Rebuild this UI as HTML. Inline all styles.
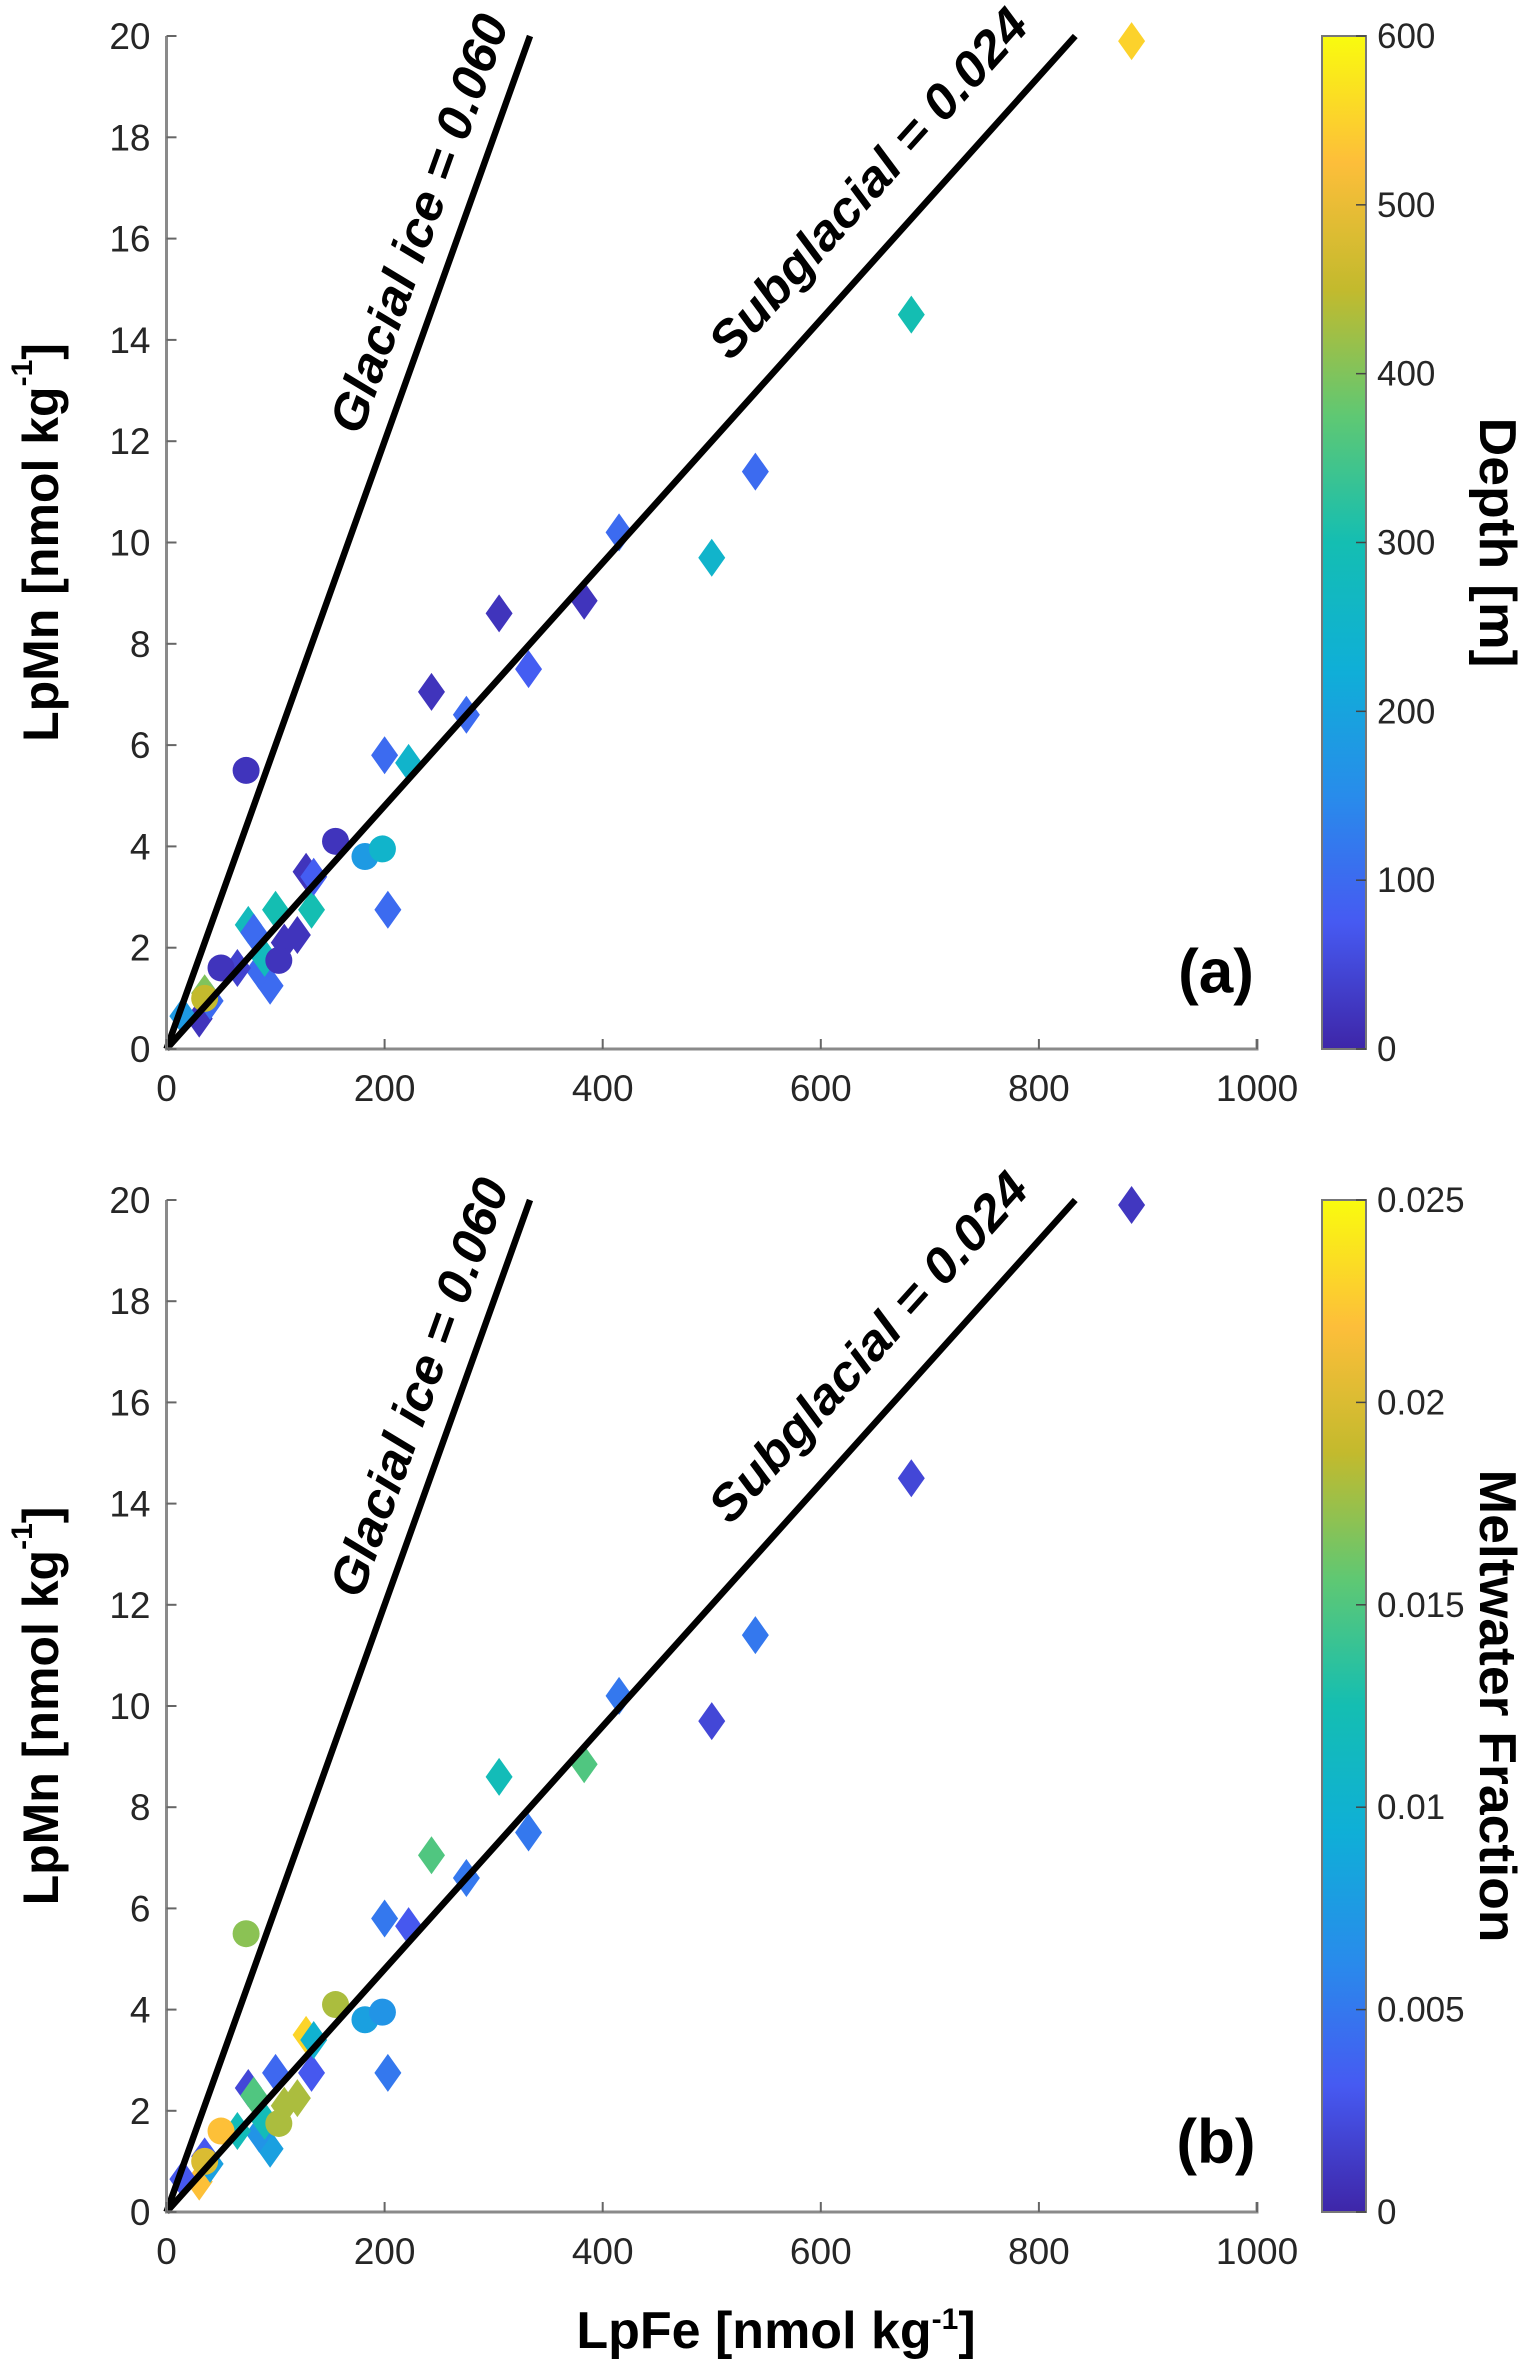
<!DOCTYPE html>
<html><head><meta charset="utf-8"><style>
html,body{margin:0;padding:0;background:#fff;}
svg{display:block;font-family:"Liberation Sans",sans-serif;}
</style></head><body>
<svg id="fig" width="1540" height="2379" viewBox="0 0 1540 2379" xmlns="http://www.w3.org/2000/svg"></svg>
<script>
const lpFe = [885,683,540,415,500,383,305,332,243,275,200,222,203,75,100,133,128,135,120,108,95,85,90,80,30,15,40,35,65,73,155,182,198,103,50,35];
const lpMn = [19.9,14.5,11.4,10.2,9.7,8.85,8.6,7.5,7.05,6.6,5.8,5.65,2.75,2.45,2.75,2.75,3.5,3.4,2.25,2.1,1.25,1.55,1.8,2.3,0.6,0.65,0.95,1.1,1.6,5.5,4.1,3.8,3.95,1.75,1.6,1.0];
const markerShape = ['d','d','d','d','d','d','d','d','d','d','d','d','d','d','d','d','d','d','d','d','d','d','d','d','d','d','d','d','d','c','c','c','c','c','c','c'];
const depth = [550,300,100,100,250,20,20,80,20,100,100,250,100,280,300,300,20,80,20,20,100,100,280,100,20,180,100,400,40,20,20,180,250,20,20,450];
const meltFrac = [0.001,0.002,0.005,0.005,0.002,0.015,0.012,0.005,0.015,0.005,0.005,0.003,0.005,0.002,0.004,0.003,0.023,0.01,0.018,0.018,0.008,0.007,0.012,0.015,0.022,0.003,0.008,0.003,0.012,0.017,0.018,0.008,0.007,0.018,0.022,0.02];
const xTicks = [0,200,400,600,800,1000];
const yTicks = [0,2,4,6,8,10,12,14,16,18,20];
const depthTicks = [0,100,200,300,400,500,600];
const meltTicks = [0,0.005,0.01,0.015,0.02,0.025];
const meltTickLabels = ['0','0.005','0.01','0.015','0.02','0.025'];
const ratioGlacial = 0.060;
const ratioSubglacial = 0.024;

const NS='http://www.w3.org/2000/svg';
const svg=document.getElementById('fig');
function mk(tag,attrs,parent){const e=document.createElementNS(NS,tag);for(const k in attrs)e.setAttribute(k,attrs[k]);(parent||svg).appendChild(e);return e;}
const stops=[[0,62,38,168],[0.125,70,90,242],[0.25,40,140,235],[0.375,15,175,215],[0.5,20,190,178],[0.625,95,200,115],[0.75,195,186,45],[0.875,253,190,58],[1,249,251,14]];
function parula(t){t=Math.max(0,Math.min(1,t));for(let i=1;i<stops.length;i++){if(t<=stops[i][0]){const a=stops[i-1],b=stops[i],f=(t-a[0])/(b[0]-a[0]);return `rgb(${Math.round(a[1]+f*(b[1]-a[1]))},${Math.round(a[2]+f*(b[2]-a[2]))},${Math.round(a[3]+f*(b[3]-a[3]))})`;}}return 'rgb(249,251,14)';}

const defs=mk('defs',{});
const grad=mk('linearGradient',{id:'par',x1:0,y1:1,x2:0,y2:0},defs);
stops.forEach(s=>mk('stop',{offset:s[0],'stop-color':`rgb(${s[1]},${s[2]},${s[3]})`},grad));

function panel(top,bottom,cvals,cmax,cTicks,cLabels,cTitle,cTitleLen,tag){
  const L=166.5,R=1257,T=top,B=bottom;
  const xs=v=>L+(v/1000)*(R-L), ys=v=>B-(v/20)*(B-T);
  const g=mk('g',{});
  
  
  const pg=mk('g',{},g);
  
  
  lpFe.forEach((fe,i)=>{
    const x=xs(fe),y=ys(lpMn[i]),col=parula(cvals[i]/cmax);
    let el;
    if(markerShape[i]==='d'){el=mk('polygon',{points:`${x},${y-19} ${x+13.5},${y} ${x},${y+19} ${x-13.5},${y}`,fill:col},pg);}
    else{el=mk('circle',{cx:x,cy:y,r:13.5,fill:col},pg);}
    
    
  });
  const l1=mk('line',{x1:xs(0),y1:ys(0),x2:xs(20/ratioGlacial),y2:ys(20),stroke:'#000','stroke-width':6.5},g);
  
  
  const l2=mk('line',{x1:xs(0),y1:ys(0),x2:xs(20/ratioSubglacial),y2:ys(20),stroke:'#000','stroke-width':6.5},g);
  
  
  const a1=-Math.atan2((B-T)/20*ratioGlacial,(R-L)/1000)*180/Math.PI;
  const a2=-Math.atan2((B-T)/20*ratioSubglacial,(R-L)/1000)*180/Math.PI;
  const c1=[xs(16.1/ratioGlacial)-40,ys(16.1)-10], c2=[xs(16.5/ratioSubglacial)-48,ys(16.5)-30];
  const t1=mk('text',{x:c1[0],y:c1[1],transform:`rotate(${a1} ${c1[0]} ${c1[1]})`,'text-anchor':'middle','dominant-baseline':'central','font-size':50,'font-weight':'bold','font-style':'italic',textLength:440,lengthAdjust:'spacingAndGlyphs'},g);
  t1.textContent='Glacial ice = 0.060';
  
  
  const t2=mk('text',{x:c2[0],y:c2[1],transform:`rotate(${a2} ${c2[0]} ${c2[1]})`,'text-anchor':'middle','dominant-baseline':'central','font-size':50,'font-weight':'bold','font-style':'italic',textLength:450,lengthAdjust:'spacingAndGlyphs'},g);
  t2.textContent='Subglacial = 0.024';
  
  
  const ax=mk('path',{d:`M${L},${T} L${L},${B} L${R},${B} L${R},${B-10}`,stroke:'#8a8a8a','stroke-width':3,fill:'none'},g);
  
  
  xTicks.forEach(v=>{
    const x=xs(v);
    mk('line',{x1:x,y1:B,x2:x,y2:B-10,stroke:'#666','stroke-width':2},g);
    const t=mk('text',{x:x,y:B+52,'text-anchor':'middle','font-size':37,fill:'#262626'},g);
    t.textContent=v;
    
    
  });
  yTicks.forEach(v=>{
    const y=ys(v);
    mk('line',{x1:L,y1:y,x2:L+10,y2:y,stroke:'#666','stroke-width':2},g);
    const t=mk('text',{x:L-16,y:y+13,'text-anchor':'end','font-size':37,fill:'#262626'},g);
    t.textContent=v;
    
    
  });
  const yt=mk('text',{x:41,y:(T+B)/2,transform:`rotate(-90 41 ${(T+B)/2})`,'text-anchor':'middle','dominant-baseline':'central','font-size':50,'font-weight':'bold'},g);
  yt.innerHTML='LpMn [nmol kg<tspan dy="-19" font-size="30">-1</tspan><tspan dy="19">]</tspan>';
  
  
  const pl=mk('text',{x:1216,y:(tag==='a'?972:2142),'text-anchor':'middle','dominant-baseline':'central','font-size':62,'font-weight':'bold'},g);
  pl.textContent='('+tag+')';
  
  
  const cb=mk('rect',{x:1322,y:T,width:44,height:B-T,fill:'url(#par)',stroke:'#777','stroke-width':2},g);
  
  
  cTicks.forEach((v,i)=>{
    const y=B-(v/cmax)*(B-T);
    mk('line',{x1:1356,y1:y,x2:1366,y2:y,stroke:'#444','stroke-width':1.5},g);
    const t=mk('text',{x:1377,y:y+12,'font-size':35,fill:'#262626'},g);
    t.textContent=cLabels[i];
    
    
  });
  const ct=mk('text',{x:1497,y:(T+B)/2,transform:`rotate(90 1497 ${(T+B)/2})`,'text-anchor':'middle','dominant-baseline':'central','font-size':52,'font-weight':'bold',textLength:cTitleLen,lengthAdjust:'spacingAndGlyphs'},g);
  ct.textContent=cTitle;
  
  
}
panel(36,1049,depth,600,depthTicks,depthTicks.map(String),'Depth [m]',250,'a');
panel(1200,2212,meltFrac,0.025,meltTicks,meltTickLabels,'Meltwater Fraction',473,'b');
const xt=mk('text',{x:776,y:2348,'text-anchor':'middle','font-size':52,'font-weight':'bold'});
xt.innerHTML='LpFe [nmol kg<tspan dy="-19" font-size="30">-1</tspan><tspan dy="19">]</tspan>';


</script>
</body></html>
